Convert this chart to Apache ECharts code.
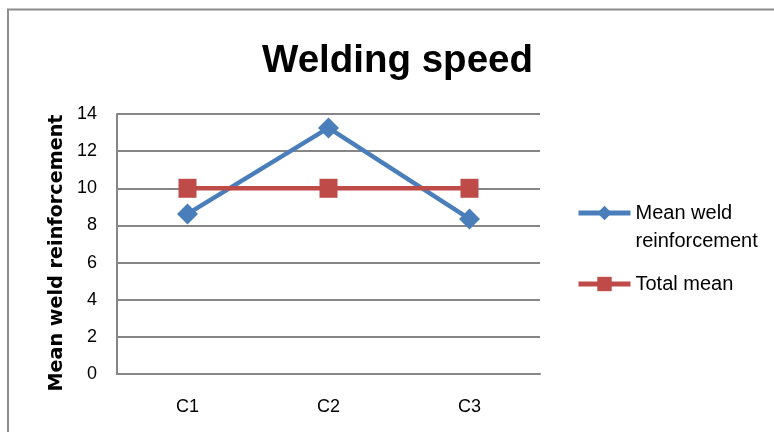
<!DOCTYPE html>
<html>
<head>
<meta charset="utf-8">
<script src="https://cdn.jsdelivr.net/npm/echarts@6/dist/echarts.min.js"></script>
<style>html,body{margin:0;padding:0;background:#fff}#c{width:774px;height:432px}</style>
</head>
<body>
<div id="c"></div>
<script>
var categories = ['C1', 'C2', 'C3'];
var meanWeld = [8.62, 13.25, 8.35];
var totalMean = [10, 10, 10];
var yTicks = { min: 0, max: 14, interval: 2 };
var titleText = 'Welding speed';
var yName = 'Mean weld reinforcement';
var seriesNames = ['Mean weld reinforcement', 'Total mean'];

var chart = echarts.init(document.getElementById('c'), null, { renderer: 'canvas' });
var gridColor = '#868686';
var blue = '#4A7EBB', red = '#BE4B48';
var option = {
  backgroundColor: '#fff',
  animation: false,
  graphic: [{
    type: 'rect', shape: { x: 8, y: 9.5, width: 900, height: 600 },
    style: { fill: 'none', stroke: '#8c8c8c', lineWidth: 2 }, silent: true
  }],
  title: {
    text: titleText, left: 262, top: 42, padding: 0,
    textStyle: { fontFamily: 'Liberation Sans', fontWeight: 'bold', fontSize: 38.5, color: '#000' }
  },
  grid: { left: 117, right: 234, top: 114, bottom: 58, containLabel: false },
  xAxis: {
    type: 'category', data: categories, boundaryGap: true,
    axisLine: { lineStyle: { color: gridColor, width: 2 } },
    axisTick: { show: false },
    axisLabel: { margin: 24, fontFamily: 'Liberation Sans', fontSize: 18, color: '#000' }
  },
  yAxis: {
    type: 'value', min: yTicks.min, max: yTicks.max, interval: yTicks.interval,
    name: yName, nameLocation: 'middle', nameGap: 46, nameRotate: 90,
    nameTextStyle: { fontFamily: 'DejaVu Sans', fontWeight: 'bold', fontSize: 19.2, color: '#000', padding: [0, 18, 0, 0] },
    axisLine: { show: true, lineStyle: { color: gridColor, width: 2 } },
    axisTick: { show: false },
    splitLine: { lineStyle: { color: gridColor, width: 2 } },
    axisLabel: { margin: 20, fontFamily: 'Liberation Sans', fontSize: 18, color: '#000' }
  },
  legend: [{
    data: [seriesNames[0]], left: 576, top: 171, padding: 0,
    orient: 'vertical', itemWidth: 52, itemHeight: 18,
    lineStyle: { width: 5 },
    formatter: function () { return ' \nMean weld\nreinforcement'; },
    textStyle: { fontFamily: 'Liberation Sans', fontSize: 20, color: '#000', lineHeight: 28 }
  }, {
    data: [seriesNames[1]], left: 576, top: 270, padding: 0,
    orient: 'vertical', itemWidth: 52, itemHeight: 18,
    lineStyle: { width: 5 },
    textStyle: { fontFamily: 'Liberation Sans', fontSize: 20, color: '#000', lineHeight: 28 }
  }],
  series: [{
    name: seriesNames[0], type: 'line', data: meanWeld,
    symbol: 'diamond', symbolSize: 21,
    lineStyle: { color: blue, width: 4.5 },
    itemStyle: { color: blue }
  }, {
    name: seriesNames[1], type: 'line', data: totalMean,
    symbol: 'rect', symbolSize: [18, 19],
    lineStyle: { color: red, width: 4.5 },
    itemStyle: { color: red }
  }]
};
chart.setOption(option);
</script>
</body>
</html>
